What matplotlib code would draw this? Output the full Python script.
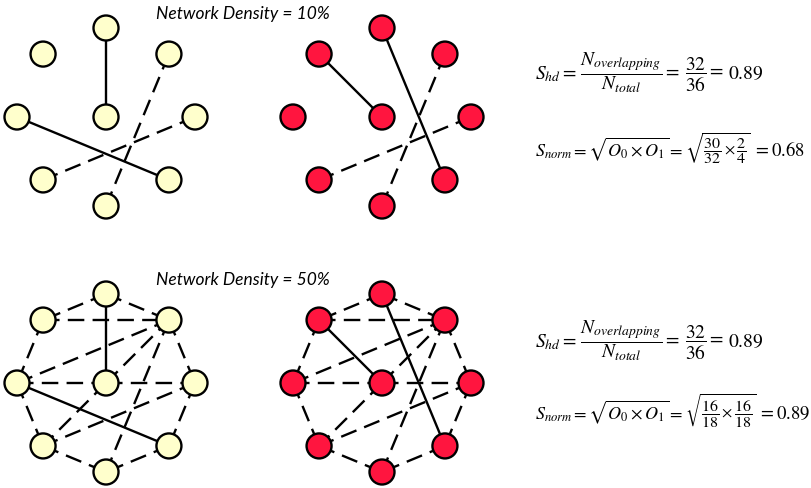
import numpy as np
import matplotlib
matplotlib.use("Agg")
import matplotlib.pyplot as plt
from matplotlib.patches import Circle

plt.rcParams['mathtext.fontset'] = 'stix'

# node names: centre plus eight around the ring
ring_nodes = ["R", "UR", "T", "UL", "L", "LL", "B", "LR"]
ring_angles = [0, 45, 90, 135, 180, 225, 270, 315]

densities = ["10%", "50%"]

# edges per network: (solid edges, dashed edges)
sparse_a_solid = [("T", "C"), ("L", "LR")]
sparse_a_dashed = [("UR", "B"), ("R", "LL")]
sparse_b_solid = [("UL", "C"), ("T", "LR")]
sparse_b_dashed = [("UR", "B"), ("R", "LL")]

dense_dashed = [("T", "UL"), ("T", "UR"), ("UL", "L"), ("UR", "R"),
                ("L", "LL"), ("R", "LR"), ("LL", "B"), ("LR", "B"),
                ("UL", "UR"), ("L", "UR"), ("L", "C"), ("C", "R"),
                ("C", "UR"), ("C", "LL"), ("UR", "B"), ("R", "LL")]
dense_a_solid = [("T", "C"), ("L", "LR")]
dense_b_solid = [("UL", "C"), ("T", "LR")]

# similarity scores shown next to each pair
shd_num = [32, 32]
shd_den = [36, 36]
shd_val = ["0.89", "0.89"]
o0 = [(30, 32), (16, 18)]
o1 = [(2, 4), (16, 18)]
snorm_val = ["0.68", "0.89"]

cream = "#FFFFCC"
red = "#FF153F"


def node_positions(cx, cy, r=89):
    pos = {"C": (cx, cy)}
    for name, ang in zip(ring_nodes, ring_angles):
        a = np.deg2rad(ang)
        pos[name] = (cx + r * np.cos(a), cy - r * np.sin(a))
    return pos


def draw_network(ax, cx, cy, solid, dashed, color):
    pos = node_positions(cx, cy)
    for a, b in dashed:
        (x0, y0), (x1, y1) = pos[a], pos[b]
        ax.plot([x0, x1], [y0, y1], color="black", lw=1.7,
                dashes=(7, 3.5), zorder=1)
    for a, b in solid:
        (x0, y0), (x1, y1) = pos[a], pos[b]
        ax.plot([x0, x1], [y0, y1], color="black", lw=1.7, zorder=1)
    for x, y in pos.values():
        ax.add_patch(Circle((x, y), 12.5, facecolor=color, edgecolor="black",
                            lw=1.7, zorder=2))


def write_pieces(ax, x, y, pieces, gap=5):
    # lay out (text, size) pieces left to right on a shared baseline
    renderer = ax.figure.canvas.get_renderer()
    for s, size in pieces:
        t = ax.text(x, y, s, fontsize=size, ha="left", va="baseline")
        x = t.get_window_extent(renderer).x1 + gap


fig = plt.figure(figsize=(8.12, 4.89), dpi=100)
ax = fig.add_axes([0, 0, 1, 1])
ax.set_xlim(0, 812)
ax.set_ylim(489, 0)
ax.axis("off")

rows = [
    (118, sparse_a_solid, sparse_a_dashed, sparse_b_solid, sparse_b_dashed),
    (384, dense_a_solid, dense_dashed, dense_b_solid, dense_dashed),
]
eq_baselines = [(79, 156), (347, 419)]

for i, (cy, sa, da, sb, db) in enumerate(rows):
    draw_network(ax, 106, cy, sa, da, cream)
    draw_network(ax, 382, cy, sb, db, red)
    ax.text(243, cy - 104, "Network Density = " + densities[i],
            family="Lato", style="italic", fontsize=12.5,
            ha="center", va="center")

    y1, y2 = eq_baselines[i]
    write_pieces(ax, 535, y1, [
        (r"$S_{hd}=$", 14),
        (r"$\dfrac{N_{overlapping}}{N_{total}}=$", 14),
        (r"$\dfrac{%d}{%d}=$" % (shd_num[i], shd_den[i]), 14),
        (r"$%s$" % shd_val[i], 14),
    ], gap=4)
    write_pieces(ax, 535, y2, [
        (r"$S_{norm}=\sqrt{O_0\times O_1}=$", 13),
        (r"$\sqrt{\dfrac{%d}{%d}\times\dfrac{%d}{%d}}$"
         % (o0[i][0], o0[i][1], o1[i][0], o1[i][1]), 11.5),
        (r"$=%s$" % snorm_val[i], 13.5),
    ], gap=2)

fig.savefig("out.png", dpi=100)
